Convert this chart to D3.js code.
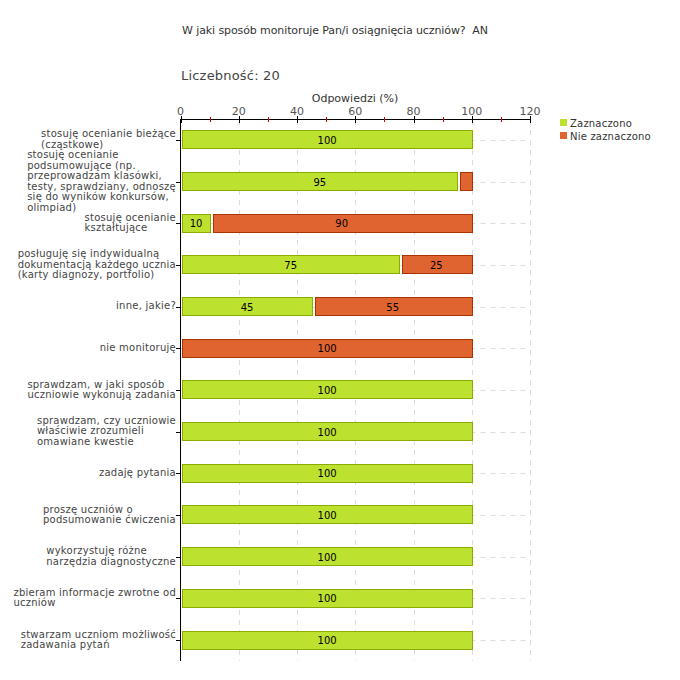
<!DOCTYPE html>
<html><head><meta charset="utf-8">
<script src="https://cdn.jsdelivr.net/npm/d3@7"></script>
<style>body{margin:0;background:#fff} text{font-family:"DejaVu Sans",Verdana,sans-serif; white-space:pre}</style>
</head><body>
<svg id="c" width="680" height="680"></svg>
<script>
const title = "W jaki sposób monitoruje Pan/i osiągnięcia uczniów?  AN";
const countLabel = "Liczebność: 20";
const axisTitle = "Odpowiedzi (%)";
const seriesNames = ["Zaznaczono", "Nie zaznaczono"];
const seriesColors = ["#bde12f", "#e06430"];
const seriesStrokes = ["#8aab00", "#a83300"];
const categories = [
  "stosuję ocenianie bieżące\n(cząstkowe)",
  "stosuję ocenianie\npodsumowujące (np.\nprzeprowadzam klasówki,\ntesty, sprawdziany, odnoszę\nsię do wyników konkursów,\nolimpiad)",
  "stosuję ocenianie\nkształtujące",
  "posługuję się indywidualną\ndokumentacją każdego ucznia\n(karty diagnozy, portfolio)",
  "inne, jakie?",
  "nie monitoruję",
  "sprawdzam, w jaki sposób\nuczniowie wykonują zadania",
  "sprawdzam, czy uczniowie\nwłaściwie zrozumieli\nomawiane kwestie",
  "zadaję pytania",
  "proszę uczniów o\npodsumowanie ćwiczenia",
  "wykorzystuję różne\nnarzędzia diagnostyczne",
  "zbieram informacje zwrotne od\nuczniów",
  "stwarzam uczniom możliwość\nzadawania pytań"
];
const zaznaczono =     [100, 95, 10, 75, 45,   0, 100, 100, 100, 100, 100, 100, 100];
const nieZaznaczono =  [  0,  5, 90, 25, 55, 100,   0,   0,   0,   0,   0,   0,   0];
const xTicks = [0, 20, 40, 60, 80, 100, 120];
const xMinorTicks = [10, 30, 50, 70, 90, 110];

const svg = d3.select("#c");
const x = d3.scaleLinear().domain([0, 120]).range([180.5, 530]);
const y = d3.scaleBand().domain(categories.map((d, i) => i)).range([119, 661]).paddingInner(0.54).paddingOuter(0.27);

// title texts
svg.append("text").attr("x", 182).attr("y", 34).attr("font-size", 11).attr("letter-spacing", -0.1).attr("fill", "#333").text(title);
svg.append("text").attr("x", 181).attr("y", 80).attr("font-size", 13).attr("letter-spacing", 0.2).attr("fill", "#444").text(countLabel);
svg.append("text").attr("x", 355).attr("y", 102).attr("font-size", 11).attr("fill", "#333").attr("text-anchor", "middle").text(axisTitle);

// grid
const g = svg.append("g");
g.selectAll("line.v").data(xTicks.slice(1)).join("line")
  .attr("x1", d => Math.round(x(d)) + 0.5).attr("x2", d => Math.round(x(d)) + 0.5)
  .attr("y1", 120).attr("y2", 661)
  .attr("stroke", "#dcdcdc").attr("stroke-dasharray", "5,5");
g.selectAll("line.h").data(categories.map((d, i) => i)).join("line")
  .attr("x1", x(0)).attr("x2", x(120))
  .attr("y1", i => Math.round(y(i) + y.bandwidth() / 2) + 0.5).attr("y2", i => Math.round(y(i) + y.bandwidth() / 2) + 0.5)
  .attr("stroke", "#dcdcdc").attr("stroke-dasharray", "5,5");

// stacked bars
const rows = categories.map((c, i) => ({ i, vals: [zaznaczono[i], nieZaznaczono[i]] }));
const segs = [];
rows.forEach(r => {
  let x0 = 0;
  r.vals.forEach((v, s) => {
    if (v > 0) segs.push({ i: r.i, s, x0, x1: x0 + v, v });
    x0 += v;
  });
});
const bars = svg.append("g");
bars.selectAll("rect").data(segs).join("rect")
  .attr("x", d => Math.round(x(d.x0)) + (d.x0 === 0 ? 1.5 : 3.5))
  .attr("width", d => Math.round(x(d.x1)) - Math.round(x(d.x0)) - (d.x0 === 0 ? 1 : 3))
  .attr("y", d => Math.round(y(d.i)) + 0.5)
  .attr("height", Math.round(y.bandwidth()) - 1)
  .attr("fill", d => seriesColors[d.s])
  .attr("stroke", d => seriesStrokes[d.s]).attr("stroke-width", 1);
bars.selectAll("text").data(segs.filter(d => x(d.x1) - x(d.x0) > 20)).join("text")
  .attr("x", d => (x(d.x0) + x(d.x1)) / 2 + 1)
  .attr("y", d => y(d.i) + y.bandwidth() / 2 + 4)
  .attr("text-anchor", "middle").attr("font-size", 10).attr("fill", "#000")
  .text(d => d.v);

// top axis
const ax = svg.append("g");
ax.append("line").attr("x1", x(0)).attr("x2", x(120) + 1).attr("y1", 119.5).attr("y2", 119.5).attr("stroke", "#000");
ax.selectAll("line.maj").data(xTicks).join("line")
  .attr("x1", d => Math.round(x(d)) + 0.5).attr("x2", d => Math.round(x(d)) + 0.5)
  .attr("y1", 116).attr("y2", 123).attr("stroke", "#000");
ax.selectAll("line.min").data(xMinorTicks).join("line")
  .attr("x1", d => Math.round(x(d)) + 0.5).attr("x2", d => Math.round(x(d)) + 0.5)
  .attr("y1", 117).attr("y2", 122).attr("stroke", "#e00000");
ax.selectAll("text").data(xTicks).join("text")
  .attr("x", d => x(d)).attr("y", 115)
  .attr("text-anchor", "middle").attr("font-size", 11).attr("fill", "#555")
  .text(d => d);

// left axis
svg.append("line").attr("x1", 180.5).attr("x2", 180.5).attr("y1", 119).attr("y2", 661).attr("stroke", "#000");
svg.selectAll("line.lt").data(categories.map((d, i) => i)).join("line")
  .attr("x1", 176).attr("x2", 180).attr("y1", i => Math.round(y(i) + y.bandwidth() / 2) + 0.5).attr("y2", i => Math.round(y(i) + y.bandwidth() / 2) + 0.5)
  .attr("stroke", "#000");

const lineH = 10.5;
categories.forEach((c, i) => {
  const lines = c.split("\n");
  const t = svg.append("text").attr("font-size", 10).attr("letter-spacing", 0.25).attr("fill", "#444");
  const cy = y(i) + y.bandwidth() / 2;
  const top = cy - (lines.length * lineH) / 2;
  lines.forEach((l, k) => {
    t.append("tspan").attr("y", top + (k + 1) * lineH - 2.5).text(l);
  });
  let w = 0;
  t.selectAll("tspan").each(function () { w = Math.max(w, this.getComputedTextLength()); });
  t.selectAll("tspan").attr("x", 176 - w);
});

// legend
const lg = svg.append("g");
seriesNames.forEach((n, k) => {
  lg.append("rect").attr("x", 560).attr("y", 119 + k * 13).attr("width", 7).attr("height", 7).attr("fill", seriesColors[k]);
  lg.append("text").attr("x", 570).attr("y", 127 + k * 13).attr("font-size", 10).attr("letter-spacing", 0.2).attr("fill", "#333").text(n);
});
</script>
</body></html>
